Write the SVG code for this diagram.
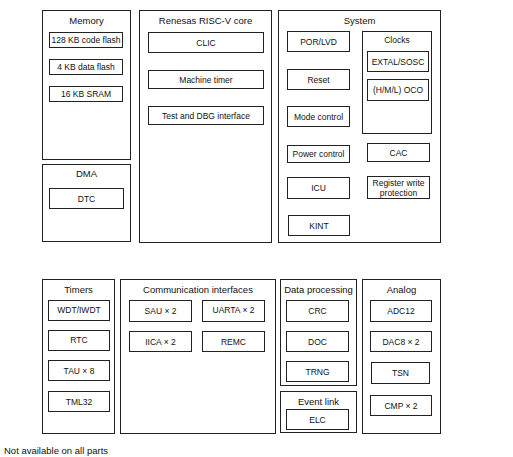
<svg xmlns="http://www.w3.org/2000/svg" width="513" height="457" viewBox="0 0 513 457">
<style>
rect{fill:#fff;stroke:#222;stroke-width:1}
text{font-family:"Liberation Sans",Arial,sans-serif;fill:#111;text-anchor:middle}
.t{font-size:9.5px}
.i{font-size:8.5px}
.n{font-size:9.5px;text-anchor:start}
</style>
<rect x="0" y="0" width="513" height="457" style="stroke:none;fill:#fff"/>
<g id="memory">
<rect x="42.5" y="10.5" width="88" height="149"/>
<text class="t" x="86.5" y="24">Memory</text>
<rect x="49.5" y="32.5" width="73" height="15"/>
<text class="i" x="86" y="43">128 KB code flash</text>
<rect x="49.5" y="59.5" width="73" height="15"/>
<text class="i" x="86" y="70">4 KB data flash</text>
<rect x="49.5" y="86.5" width="73" height="15"/>
<text class="i" x="86" y="97">16 KB SRAM</text>
</g>
<g id="dma">
<rect x="42.5" y="164.5" width="88" height="77"/>
<text class="t" x="86.5" y="176.5">DMA</text>
<rect x="49.5" y="188.5" width="74" height="20"/>
<text class="i" x="86.5" y="201.5">DTC</text>
</g>
<g id="core">
<rect x="139.5" y="10.5" width="132" height="232"/>
<text class="t" x="205.5" y="24">Renesas RISC-V core</text>
<rect x="148.5" y="32.5" width="115" height="20"/>
<text class="i" x="206" y="45.5">CLIC</text>
<rect x="148.5" y="70.5" width="115" height="18"/>
<text class="i" x="206" y="82.5">Machine timer</text>
<rect x="148.5" y="106.5" width="115" height="18"/>
<text class="i" x="206" y="118.5">Test and DBG interface</text>
</g>
<g id="system">
<rect x="278.5" y="10.5" width="162" height="232"/>
<text class="t" x="359.5" y="24">System</text>
<rect x="287.5" y="31.5" width="62" height="20"/>
<text class="i" x="318.5" y="44.5">POR/LVD</text>
<rect x="287.5" y="69.5" width="62" height="20"/>
<text class="i" x="318.5" y="82.5">Reset</text>
<rect x="287.5" y="106.5" width="62" height="20"/>
<text class="i" x="318.5" y="119.5">Mode control</text>
<rect x="287.5" y="145.5" width="62" height="17"/>
<text class="i" x="318.5" y="157">Power control</text>
<rect x="287.5" y="177.5" width="62" height="21"/>
<text class="i" x="318.5" y="191">ICU</text>
<rect x="288.5" y="215.5" width="61" height="20"/>
<text class="i" x="319" y="228.5">KINT</text>
<rect x="362.5" y="31.5" width="69" height="102"/>
<text class="i" x="397" y="42.5">Clocks</text>
<rect x="367.5" y="51.5" width="61" height="20"/>
<text class="i" x="398" y="64.5">EXTAL/SOSC</text>
<rect x="367.5" y="79.5" width="61" height="21"/>
<text class="i" x="398" y="93">(H/M/L) OCO</text>
<rect x="367.5" y="143.5" width="62" height="18"/>
<text class="i" x="398.5" y="155.5">CAC</text>
<rect x="367.5" y="176.5" width="62" height="22"/>
<text class="i" x="398.5" y="186">Register write</text>
<text class="i" x="398.5" y="196">protection</text>
</g>
<g id="timers">
<rect x="42.5" y="279.5" width="72" height="154"/>
<text class="t" x="78.5" y="292.5">Timers</text>
<rect x="48.5" y="300.5" width="61" height="20"/>
<text class="i" x="79" y="313">WDT/IWDT</text>
<rect x="48.5" y="330.5" width="61" height="20"/>
<text class="i" x="79" y="343">RTC</text>
<rect x="48.5" y="360.5" width="61" height="20"/>
<text class="i" x="79" y="373.5">TAU × 8</text>
<rect x="48.5" y="391.5" width="61" height="20"/>
<text class="i" x="79" y="404.5">TML32</text>
</g>
<g id="comm">
<rect x="120.5" y="279.5" width="155" height="154"/>
<text class="t" x="198" y="292.5">Communication interfaces</text>
<rect x="129.5" y="300.5" width="62" height="21"/>
<text class="i" x="160.5" y="314">SAU × 2</text>
<rect x="202.5" y="300.5" width="62" height="21"/>
<text class="i" x="233.5" y="313">UARTA × 2</text>
<rect x="129.5" y="331.5" width="62" height="20"/>
<text class="i" x="160.5" y="344.5">IICA × 2</text>
<rect x="202.5" y="331.5" width="62" height="20"/>
<text class="i" x="233.5" y="344.5">REMC</text>
</g>
<g id="dataproc">
<rect x="280.5" y="279.5" width="76" height="106"/>
<text class="t" x="318.5" y="292.5">Data processing</text>
<rect x="286.5" y="300.5" width="62" height="21"/>
<text class="i" x="317.5" y="314">CRC</text>
<rect x="286.5" y="331.5" width="62" height="20"/>
<text class="i" x="317.5" y="344.5">DOC</text>
<rect x="286.5" y="361.5" width="62" height="20"/>
<text class="i" x="317.5" y="374.5">TRNG</text>
</g>
<g id="eventlink">
<rect x="280.5" y="391.5" width="76" height="41"/>
<text class="t" x="318.5" y="404.5">Event link</text>
<rect x="286.5" y="409.5" width="62" height="20"/>
<text class="i" x="317.5" y="422.5">ELC</text>
</g>
<g id="analog">
<rect x="362.5" y="279.5" width="78" height="154"/>
<text class="t" x="401.5" y="292.5">Analog</text>
<rect x="370.5" y="300.5" width="61" height="21"/>
<text class="i" x="401" y="314">ADC12</text>
<rect x="370.5" y="331.5" width="61" height="20"/>
<text class="i" x="401" y="344.5">DAC8 × 2</text>
<rect x="371.5" y="362.5" width="58" height="21"/>
<text class="i" x="400.5" y="376">TSN</text>
<rect x="370.5" y="395.5" width="61" height="20"/>
<text class="i" x="401" y="408.5">CMP × 2</text>
</g>
<g id="connectors"></g>
<text class="n" x="4" y="453.5">Not available on all parts</text>
</svg>
